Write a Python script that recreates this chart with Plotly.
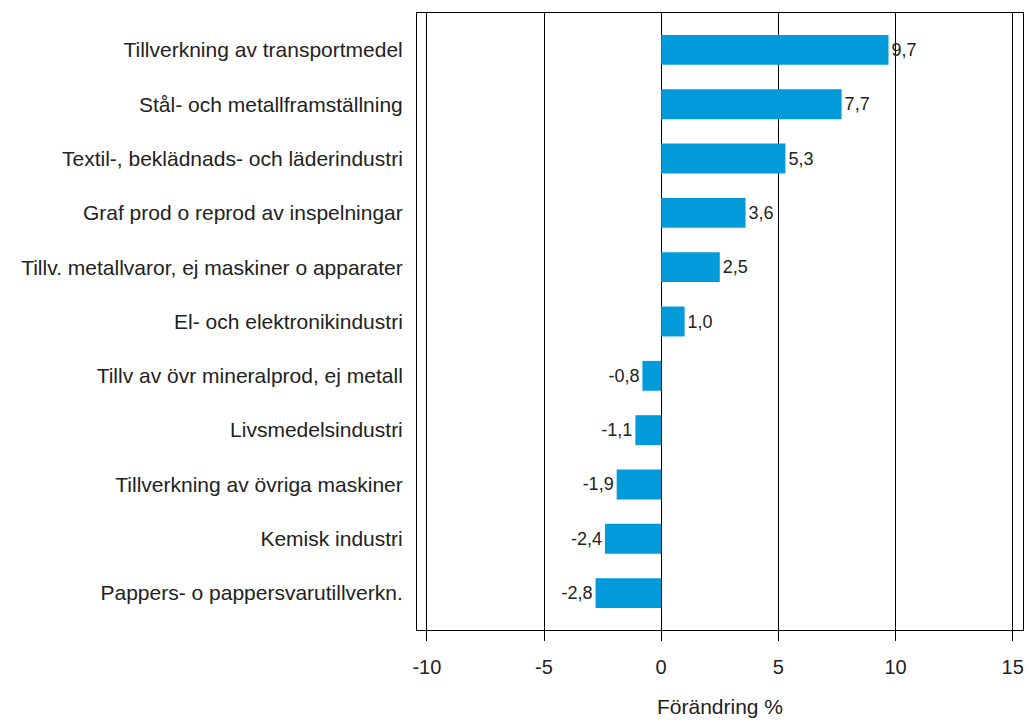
import plotly.graph_objects as go

categories = [
    "Tillverkning av transportmedel",
    "Stål- och metallframställning",
    "Textil-, beklädnads- och läderindustri",
    "Graf prod o reprod av inspelningar",
    "Tillv. metallvaror, ej maskiner o apparater",
    "El- och elektronikindustri",
    "Tillv av övr mineralprod, ej metall",
    "Livsmedelsindustri",
    "Tillverkning av övriga maskiner",
    "Kemisk industri",
    "Pappers- o pappersvarutillverkn.",
]
values = [9.7, 7.7, 5.3, 3.6, 2.5, 1.0, -0.8, -1.1, -1.9, -2.4, -2.8]
tick_vals = [-10, -5, 0, 5, 10, 15]
x_title = "Förändring %"

font = "Liberation Sans, Arial, sans-serif"

fig = go.Figure(go.Bar(
    x=values,
    y=categories,
    orientation="h",
    marker=dict(color="#009BD8", line=dict(width=0)),
    width=0.55,
    text=[f"{v:.1f}".replace(".", ",") for v in values],
    textposition="outside",
    textfont=dict(family=font, size=18, color="#222222"),
    cliponaxis=False,
))

fig.update_layout(
    width=1029, height=722,
    margin=dict(l=417, r=6, t=13, b=92),
    paper_bgcolor="white", plot_bgcolor="white",
    showlegend=False,
    font=dict(family=font, color="#222222"),
    separators=", ",
)
fig.update_xaxes(
    range=[-10.42, 15.44],
    tickvals=tick_vals,
    ticktext=[str(t) for t in tick_vals],
    showgrid=True, gridcolor="black", gridwidth=1,
    zeroline=True, zerolinecolor="black", zerolinewidth=1,
    showline=True, linecolor="black", linewidth=1, mirror=True,
    ticks="outside", ticklen=10, tickcolor="black",
    ticklabelstandoff=9,
    tickfont=dict(size=20, family=font, color="#222222"),
    title=dict(text=x_title, font=dict(size=21, family=font, color="#222222"), standoff=22),
)
fig.update_yaxes(
    categoryorder="array", categoryarray=categories,
    autorange=False, range=[10.68, -0.68],
    showgrid=False, zeroline=False,
    showline=True, linecolor="black", linewidth=1, mirror=True,
    ticks="", ticklabelstandoff=9,
    tickfont=dict(size=21, family=font, color="#222222"),
)

fig.write_html(
    "out.html",
    config={"displayModeBar": False},
    post_script="document.body.style.margin='0';document.body.style.overflow='hidden';",
)
